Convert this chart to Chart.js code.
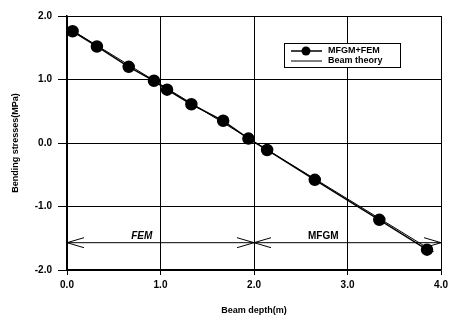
<!DOCTYPE html>
<html>
<head>
<meta charset="utf-8">
<script src="https://cdn.jsdelivr.net/npm/chart.js@4/dist/chart.umd.min.js"></script>
<style>
  html, body { margin: 0; padding: 0; background: #fff; }
  #wrap { width: 452px; height: 320px; }
</style>
</head>
<body>
<div id="wrap"><canvas id="stressChart" width="452" height="320"></canvas></div>
<script>
// ===== Data =====
const depth = [0.06, 0.32, 0.66, 0.93, 1.07, 1.33, 1.67, 1.94, 2.14, 2.65, 3.34, 3.85];
const stressFem = [1.76, 1.52, 1.20, 0.98, 0.84, 0.61, 0.35, 0.07, -0.11, -0.58, -1.21, -1.68];
const beamDepth = [0.06, 3.92];
const beamStress = [1.77, -1.71];
const xTicks = [0, 1, 2, 3, 4];
const yTicks = [-2, -1, 0, 1, 2];
const zoneBounds = [0, 2, 4];
const zoneY = -1.57;
const zoneLabels = ['FEM', 'MFGM'];
const zoneLabelX = [0.80, 2.74];

const font = '"Liberation Sans", Arial, sans-serif';

// ===== Annotations: zone arrows + legend =====
const annotate = {
  id: 'annotate',
  afterDatasetsDraw(chart) {
    const { ctx, scales: { x, y } } = chart;
    ctx.save();
    ctx.strokeStyle = '#000';
    ctx.fillStyle = '#000';
    ctx.lineWidth = 1;
    const py = y.getPixelForValue(zoneY);
    const x0 = x.getPixelForValue(zoneBounds[0]);
    const x1 = x.getPixelForValue(zoneBounds[1]);
    const x2 = x.getPixelForValue(zoneBounds[2]);
    ctx.beginPath();
    ctx.moveTo(x0, py); ctx.lineTo(x2, py);
    ctx.stroke();
    const head = (tx, dir) => {
      ctx.beginPath();
      ctx.moveTo(tx - dir * 17, py - 5);
      ctx.lineTo(tx, py);
      ctx.lineTo(tx - dir * 17, py + 5);
      ctx.stroke();
    };
    head(x0, -1); head(x1, 1); head(x1, -1); head(x2, 1);

    ctx.font = 'italic bold 10px ' + font;
    ctx.textAlign = 'center';
    ctx.textBaseline = 'alphabetic';
    ctx.fillText(zoneLabels[0], x.getPixelForValue(zoneLabelX[0]), py - 4);
    ctx.font = 'bold 10px ' + font;
    ctx.fillText(zoneLabels[1], x.getPixelForValue(zoneLabelX[1]), py - 4);

    // legend box
    const lx = 284, ly = 43, lw = 116, lh = 24;
    ctx.fillStyle = '#fff';
    ctx.fillRect(lx, ly, lw, lh);
    ctx.strokeRect(lx + 0.5, ly + 0.5, lw, lh);
    ctx.fillStyle = '#000';
    ctx.lineWidth = 1.5;
    ctx.beginPath(); ctx.moveTo(lx + 7, ly + 8); ctx.lineTo(lx + 38, ly + 8); ctx.stroke();
    ctx.beginPath(); ctx.arc(lx + 22, ly + 8, 4.5, 0, Math.PI * 2); ctx.fill();
    ctx.lineWidth = 1;
    ctx.beginPath(); ctx.moveTo(lx + 7, ly + 18); ctx.lineTo(lx + 38, ly + 18); ctx.stroke();
    ctx.font = 'bold 9px ' + font;
    ctx.textAlign = 'left';
    ctx.textBaseline = 'middle';
    ctx.fillText(chart.data.datasets[0].label, lx + 44, ly + 8);
    ctx.fillText(chart.data.datasets[1].label, lx + 44, ly + 18);
    ctx.restore();
  }
};

// ===== Chart =====
new Chart(document.getElementById('stressChart'), {
  type: 'scatter',
  data: {
    datasets: [
      {
        label: 'MFGM+FEM',
        data: depth.map((d, i) => ({ x: d, y: stressFem[i] })),
        showLine: true, borderColor: '#000', borderWidth: 1.5,
        pointBackgroundColor: '#000', pointBorderColor: '#000', pointRadius: 5.5
      },
      {
        label: 'Beam theory',
        data: beamDepth.map((d, i) => ({ x: d, y: beamStress[i] })),
        showLine: true, borderColor: '#000', borderWidth: 1, pointRadius: 0
      }
    ]
  },
  options: {
    responsive: false, animation: false,
    layout: { padding: { top: 16, right: 9, left: 0, bottom: 0 } },
    plugins: { legend: { display: false }, tooltip: { enabled: false } },
    scales: {
      x: {
        type: 'linear', min: 0, max: 4,
        afterBuildTicks: s => { s.ticks = xTicks.map(v => ({ value: v })); },
        afterFit: s => { s.height = 50; },
        border: { color: '#000', width: 1.5 },
        grid: { color: '#000', lineWidth: 1, tickLength: 5 },
        ticks: { color: '#000', padding: 4, font: { family: font, size: 10, weight: 'bold' },
                 callback: v => v.toFixed(1) },
        title: { display: true, text: 'Beam depth(m)', color: '#000', padding: { top: 9 },
                 font: { family: font, size: 9, weight: 'bold' } }
      },
      y: {
        type: 'linear', min: -2, max: 2,
        afterBuildTicks: s => { s.ticks = yTicks.map(v => ({ value: v })); },
        afterFit: s => { s.width = 67; },
        border: { color: '#000', width: 1.5 },
        grid: { color: '#000', lineWidth: 1, tickLength: 9 },
        ticks: { color: '#000', padding: 6, font: { family: font, size: 10, weight: 'bold' },
                 callback: v => v.toFixed(1) },
        title: { display: true, text: 'Bending stresses(MPa)', color: '#000', padding: { top: 10, bottom: 0 },
                 font: { family: font, size: 9, weight: 'bold' } }
      }
    }
  },
  plugins: [annotate]
});
</script>
</body>
</html>
